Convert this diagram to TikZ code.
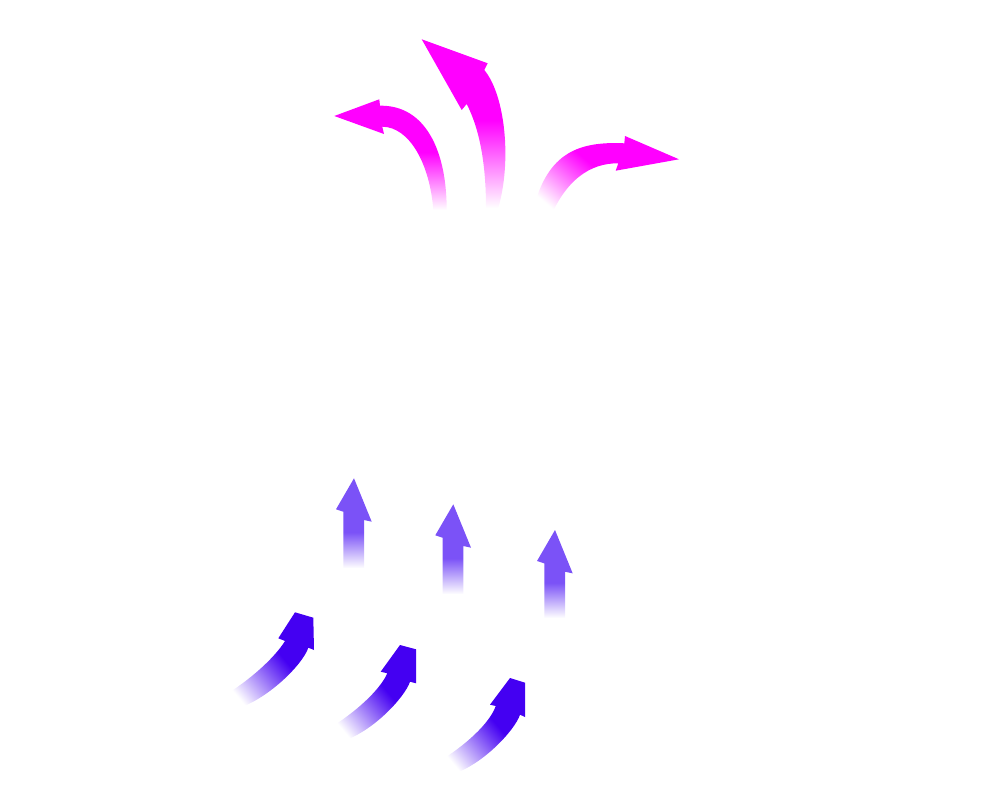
\documentclass[tikz,border=0pt]{standalone}
\usepackage{tikz}
\definecolor{flowmag}{RGB}{255,0,255}
\definecolor{flowviolet}{RGB}{123,82,247}
\definecolor{flowblue}{RGB}{68,0,242}
% tails fade out to the white page (shade fits 25bp..75bp to the path)
\pgfdeclareverticalshading{magfade}{100bp}{color(0bp)=(white); color(25bp)=(white); color(51bp)=(flowmag); color(100bp)=(flowmag)}
\pgfdeclareverticalshading{violetfade}{100bp}{color(0bp)=(white); color(25bp)=(white); color(45bp)=(flowviolet); color(100bp)=(flowviolet)}
\pgfdeclareverticalshading{bluefade}{100bp}{color(0bp)=(white); color(25bp)=(white); color(57bp)=(flowblue); color(100bp)=(flowblue)}

\begin{document}
\begin{tikzpicture}[x=0.02cm,y=-0.02cm,
	mag arrow/.style={shading=magfade,shading angle=#1},
	violet arrow/.style={shading=violetfade},
	blue arrow/.style={shading=bluefade,shading angle=-50}]
	\useasboundingbox (0,0) rectangle (983,800);

	% outflow at the top
	\shade[mag arrow=0] (446.7,210) .. controls (446.7,150) and (425,105) .. (380,105.7)
	-- (379.3,99.3) -- (334.3,116) -- (384,134) -- (382.3,126.7)
	.. controls (410,127) and (430,165) .. (433.3,210) -- cycle;
	\shade[mag arrow=0] (498.3,208) .. controls (512,160) and (505,95) .. (484.3,70)
	-- (487.7,63.3) -- (421.7,39.3) -- (461.7,110) -- (466.7,104)
	.. controls (480,130) and (486,165) .. (486,208) -- cycle;
	\shade[mag arrow=-40] (531.7,216) .. controls (545,155) and (575,141) .. (624.3,143.3)
	-- (625,136) -- (679,159.3) -- (615.7,170.7) -- (618.3,163.3)
	.. controls (590,163) and (565,180) .. (548.3,222) -- cycle;

	% rising in the middle
	\begin{scope}[shift={(354,478.3)}]
	\shade[violet arrow] (-10.7,90) -- (-10.7,33.4) -- (-18,31) -- (0,0)
	-- (17.7,43.4) -- (10,41.7) -- (10,90) -- cycle;
	\end{scope}
	\begin{scope}[shift={(453.3,504.3)}]
	\shade[violet arrow] (-10.7,90) -- (-10.7,33.4) -- (-18,31) -- (0,0)
	-- (17.7,43.4) -- (10,41.7) -- (10,90) -- cycle;
	\end{scope}
	\begin{scope}[shift={(555,530)}]
	\shade[violet arrow] (-10.7,88) -- (-10.7,33.4) -- (-18,31) -- (0,0)
	-- (17.7,43.4) -- (10,41.7) -- (10,88) -- cycle;
	\end{scope}

	% inflow at the bottom
	\begin{scope}[shift={(295,612.3)}]
	\shade[blue arrow] (0,0) -- (18.3,5.4) -- (19,37.7) -- (13.3,35.4)
	.. controls (8,52) and (-28,88) .. (-60,97) -- (-72,84)
	.. controls (-45,68) and (-20,45) .. (-10,28.7) -- (-16.7,26) -- cycle;
	\end{scope}
	\begin{scope}[shift={(400,645)}]
	\shade[blue arrow] (0,0) -- (16,4.3) -- (16,38.3) -- (10,36.7)
	.. controls (5,52) and (-28,88) .. (-60,97) -- (-72,84)
	.. controls (-45,68) and (-20,45) .. (-12.7,28.3) -- (-19.3,26.7) -- cycle;
	\end{scope}
	\begin{scope}[shift={(510,678)}]
	\shade[blue arrow] (0,0) -- (15,4.7) -- (15,39) -- (10,36.7)
	.. controls (5,52) and (-28,88) .. (-60,97) -- (-72,84)
	.. controls (-45,68) and (-20,45) .. (-14.3,28) -- (-20,26.7) -- cycle;
	\end{scope}
\end{tikzpicture}
\end{document}
